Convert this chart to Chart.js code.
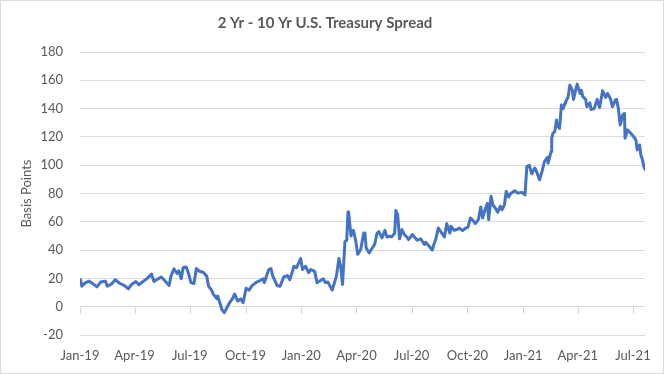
<!DOCTYPE html>
<html>
<head>
<meta charset="utf-8">
<script src="https://cdn.jsdelivr.net/npm/chart.js@4.4.0/dist/chart.umd.min.js"></script>
<style>
  html, body { margin: 0; padding: 0; background: #fff; }
  canvas { display: block; }
</style>
</head>
<body>
<canvas id="spreadChart" width="664" height="374"></canvas>
<script>
// 2yr - 10yr spread, basis points
var dates = [
  '2019-01-02','2019-01-04','2019-01-10','2019-01-16','2019-01-23','2019-01-29','2019-02-04','2019-02-12','2019-02-15','2019-02-22',
  '2019-02-28','2019-03-08','2019-03-15','2019-03-22','2019-03-27','2019-04-03','2019-04-08','2019-04-15','2019-04-22','2019-04-29',
  '2019-05-03','2019-05-10','2019-05-15','2019-05-21','2019-05-28','2019-05-31','2019-06-05','2019-06-10','2019-06-13','2019-06-17',
  '2019-06-20','2019-06-25','2019-06-28','2019-07-03','2019-07-08','2019-07-12','2019-07-17','2019-07-23','2019-07-29','2019-08-01',
  '2019-08-06','2019-08-09','2019-08-15','2019-08-16','2019-08-21','2019-08-23','2019-08-27','2019-09-04','2019-09-10','2019-09-13',
  '2019-09-18','2019-09-23','2019-09-27','2019-10-02','2019-10-07','2019-10-11','2019-10-18','2019-10-25','2019-10-30','2019-11-01',
  '2019-11-08','2019-11-12','2019-11-15','2019-11-22','2019-11-27','2019-12-03','2019-12-09','2019-12-13','2019-12-20','2019-12-24',
  '2019-12-31','2020-01-03','2020-01-08','2020-01-13','2020-01-17','2020-01-23','2020-01-27','2020-01-31','2020-02-06','2020-02-10',
  '2020-02-14','2020-02-21','2020-02-28','2020-03-03','2020-03-06','2020-03-09','2020-03-13','2020-03-16','2020-03-18','2020-03-19',
  '2020-03-23','2020-03-27','2020-03-31','2020-04-03','2020-04-08','2020-04-13','2020-04-15','2020-04-17','2020-04-22','2020-04-27',
  '2020-05-01','2020-05-05','2020-05-08','2020-05-13','2020-05-18','2020-05-21','2020-05-26','2020-05-29','2020-06-03','2020-06-05',
  '2020-06-08','2020-06-11','2020-06-15','2020-06-19','2020-06-23','2020-06-26','2020-07-02','2020-07-07','2020-07-10','2020-07-16',
  '2020-07-22','2020-07-24','2020-07-30','2020-08-04','2020-08-06','2020-08-10','2020-08-14','2020-08-18','2020-08-24','2020-08-28',
  '2020-09-02','2020-09-04','2020-09-09','2020-09-14','2020-09-17','2020-09-23','2020-09-28','2020-10-02','2020-10-06','2020-10-09',
  '2020-10-14','2020-10-19','2020-10-23','2020-10-26','2020-10-30','2020-11-03','2020-11-05','2020-11-09','2020-11-12','2020-11-16',
  '2020-11-20','2020-11-24','2020-11-27','2020-12-01','2020-12-04','2020-12-08','2020-12-11','2020-12-18','2020-12-23','2020-12-30',
  '2021-01-04','2021-01-07','2021-01-11','2021-01-15','2021-01-20','2021-01-22','2021-01-28','2021-02-01','2021-02-05','2021-02-10',
  '2021-02-11','2021-02-16','2021-02-17','2021-02-19','2021-02-22','2021-02-25','2021-02-26','2021-03-02','2021-03-05','2021-03-08',
  '2021-03-11','2021-03-12','2021-03-16','2021-03-19','2021-03-23','2021-03-25','2021-03-29','2021-03-31','2021-04-05','2021-04-07',
  '2021-04-09','2021-04-14','2021-04-16','2021-04-21','2021-04-23','2021-04-28','2021-05-03','2021-05-05','2021-05-07','2021-05-12',
  '2021-05-17','2021-05-20','2021-05-25','2021-05-28','2021-06-02','2021-06-04','2021-06-07','2021-06-10','2021-06-14','2021-06-17',
  '2021-06-18','2021-06-22','2021-06-25','2021-06-30','2021-07-02','2021-07-06','2021-07-08','2021-07-12','2021-07-14','2021-07-16',
  '2021-07-19','2021-07-21'
];
var spread = [
  19, 14.5, 17, 18, 16, 14, 17.4, 18, 14.5, 16,
  19, 16.4, 15, 12.7, 15.7, 17.8, 15.5, 17.8, 20, 23,
  17.8, 19.7, 21, 18.3, 15, 21.6, 26.8, 23.5, 25.4, 19.7,
  27.5, 28, 25, 17, 16.4, 27, 25, 24.4, 21.6, 14.5,
  11.7, 8.7, 5.6, 7.5, 1, -2, -4.2, 2.3, 6, 9,
  4, 5.5, 2.8, 13, 11.7, 14.5, 17, 18.5, 19.7, 17,
  26, 27, 21.6, 15, 14.5, 21, 22, 19, 28.6, 27.5,
  34, 26.3, 28.6, 24, 26.3, 25, 17, 18, 19.7, 17,
  17.4, 11.7, 21.6, 34, 28.6, 15.7, 46, 47, 67, 67,
  50, 54, 46, 37, 40.4, 52, 52, 41.5, 38, 41.5,
  44, 52, 53, 48.6, 54, 49.3, 49.8, 49.3, 52, 68,
  65, 48, 54.5, 51, 49.3, 47.4, 51, 48.6, 47, 48,
  44, 45.5, 42.7, 40, 43, 48, 55.6, 53, 49.3, 58.7,
  52, 56.8, 54, 54.5, 55.6, 53.8, 55.6, 56.3, 62.7, 61.5,
  58.7, 61.5, 70.4, 62.7, 68.5, 73, 61.5, 78, 72, 69.7,
  66.7, 71, 68.5, 72, 81.5, 77.5, 79.8, 82, 80.3, 80.8,
  79, 99, 100, 94, 98, 96.7, 89.7, 95.5, 102.6, 105.6,
  101.4, 109.6, 119, 122.5, 123.7, 132, 128.4, 126, 142.5, 140,
  143.7, 144.8, 148, 156.6, 153, 146.5, 154, 157.3, 150.7, 153,
  148.8, 146.5, 141.3, 144, 139.4, 140, 146.5, 143.7, 140.8, 152.6,
  148, 150.7, 147, 141.3, 146, 146.5, 140, 128.4, 135.4, 136.6,
  119, 125, 123.7, 121.4, 120.2, 117.8, 110.8, 114.3, 107.3, 105,
  99, 97
];
var tickDates = ['2019-01-01','2019-04-01','2019-07-01','2019-10-01','2020-01-01','2020-04-01',
                 '2020-07-01','2020-10-01','2021-01-01','2021-04-01','2021-07-01'];
var tickLabels = ['Jan-19','Apr-19','Jul-19','Oct-19','Jan-20','Apr-20','Jul-20','Oct-20','Jan-21','Apr-21','Jul-21'];
var yTicks = { min: -20, max: 180, step: 20 };
var endDate = '2021-07-21';

// days since start of 2019, the x scale is linear in days
function dayNum(s) {
  return (Date.parse(s + 'T00:00:00Z') - Date.parse('2019-01-01T00:00:00Z')) / 86400000;
}

var points = dates.map(function (d, i) { return { x: dayNum(d), y: spread[i] }; });
var tickDays = tickDates.map(dayNum);

var grey = '#595959';
var fontFam = 'Lato, "Open Sans", sans-serif';

// tick marks hang off the 0 line (Excel style) + chart border
var axisBits = {
  id: 'axisBits',
  beforeDatasetsDraw: function (chart) {
    var ctx = chart.ctx, x = chart.scales.x, y = chart.scales.y;
    var y0 = Math.round(y.getPixelForValue(0)) + 0.5;
    ctx.save();
    ctx.strokeStyle = '#d0d0d0';
    ctx.lineWidth = 1;
    ctx.beginPath();
    tickDays.forEach(function (d) {
      var px = Math.round(x.getPixelForValue(d)) + 0.5;
      ctx.moveTo(px, y0);
      ctx.lineTo(px, y0 + 6);
    });
    ctx.stroke();
    ctx.restore();
  },
  afterDraw: function (chart) {
    var ctx = chart.ctx;
    ctx.save();
    ctx.strokeStyle = '#d9d9d9';
    ctx.lineWidth = 1;
    ctx.strokeRect(0.5, 0.5, chart.width - 1, chart.height - 1);
    ctx.restore();
  }
};

var ctx = document.getElementById('spreadChart').getContext('2d');
var spreadChart = new Chart(ctx, {
  type: 'line',
  data: {
    datasets: [{
      data: points,
      borderColor: '#4472C4',
      borderWidth: 3,
      borderJoinStyle: 'round',
      borderCapStyle: 'round',
      pointRadius: 0,
      tension: 0,
      fill: false
    }]
  },
  options: {
    responsive: false,
    animation: false,
    layout: { padding: { left: 0, right: 14, top: 0, bottom: 0 } },
    plugins: {
      legend: { display: false },
      tooltip: { enabled: false },
      title: {
        display: true,
        text: '2 Yr - 10 Yr U.S. Treasury Spread',
        color: grey,
        font: { family: fontFam, size: 15, weight: 'bold' },
        padding: { top: 14, bottom: 20 }
      }
    },
    scales: {
      x: {
        type: 'linear',
        min: 0,
        max: dayNum(endDate),
        grid: { display: false, drawTicks: false },
        border: { display: false },
        afterBuildTicks: function (scale) {
          scale.ticks = tickDays.map(function (d) { return { value: d }; });
        },
        ticks: {
          autoSkip: false,
          maxRotation: 0,
          color: grey,
          font: { family: fontFam, size: 13 },
          padding: 13,
          callback: function (v, i) { return tickLabels[i]; }
        },
        afterFit: function (scale) { scale.height = 39; }
      },
      y: {
        min: yTicks.min,
        max: yTicks.max,
        ticks: {
          stepSize: yTicks.step,
          color: grey,
          font: { family: fontFam, size: 13 },
          padding: 17
        },
        grid: { color: '#dcdcdc', drawTicks: false },
        border: { display: false },
        title: {
          display: true,
          text: 'Basis Points',
          color: grey,
          font: { family: fontFam, size: 13 },
          padding: { top: 19, bottom: 0 }
        },
        afterFit: function (scale) { scale.width = 80; }
      }
    }
  },
  plugins: [axisBits]
});
</script>
</body>
</html>
